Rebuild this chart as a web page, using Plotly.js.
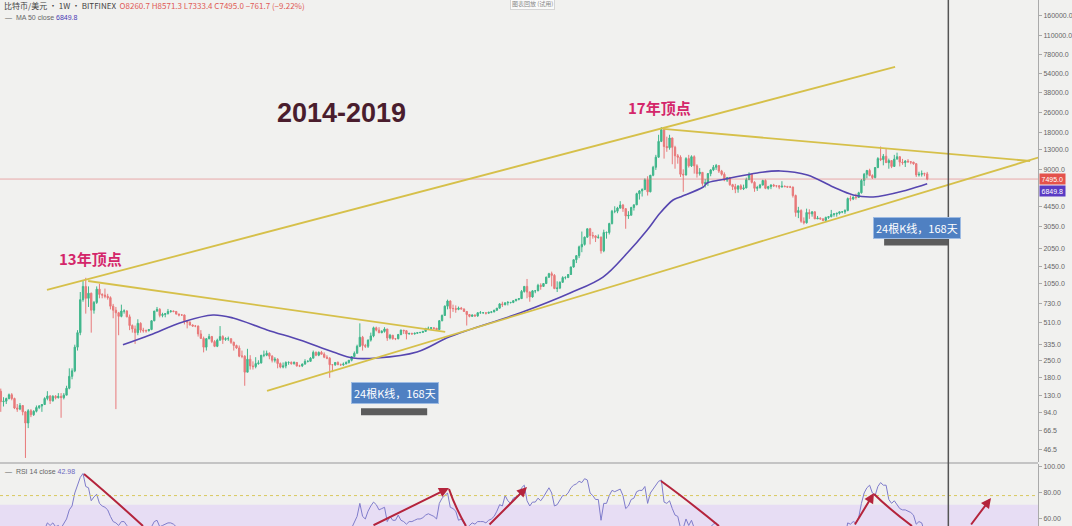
<!DOCTYPE html>
<html>
<head>
<meta charset="utf-8">
<script src="https://cdn.plot.ly/plotly-3.0.1.min.js"></script>
<style>
html,body{margin:0;padding:0;background:#f1f1ef;}
#chart{width:1072px;height:526px;}
</style>
</head>
<body>
<div id="chart"></div>
<script>
// ---------------- DATA (weekly BTC/USD, Bitfinex) ----------------
const firstWeek = '2013-04-29';

const opens = [
140,115,116,122,131,122,102,100,107,95, 77,97,90,96,103,106,109,122,128,117,
127,124,127,124,130,148,185,205,320,420, 780,1000,800,880,640,740,950,860,850,830,
810,690,640,610,570,630,630,565,480,450, 420,500,440,435,435,445,525,630,650,580,
590,600,625,630,625,595,585,585,525,510, 485,475,475,410,377,320,375,390,355,325,
365,390,370,375,375,350,330,315,270,270, 200,255,225,222,235,238,275,275,285,270,
250,255,235,220,225,240,240,235,240,225, 225,233,245,245,260,290,275,290,280,265,
260,230,230,240,230,230,233,240,250,268, 285,325,385,330,325,365,395,460,440,420,
430,450,380,400,375,375,405,440,435,410, 413,410,415,420,422,430,455,455,460,455,
445,525,580,690,760,660,660,650,665,655, 625,590,570,585,575,610,610,610,605,615,
620,640,665,720,710,735,740,740,765,785, 795,910,1000,900,820,920,920,1020,1000,1055,
1190,1270,1230,960,970,1080,1180,1180,1250,1440, 1650,1780,2100,2200,2520,2950,2600,2580,2500,2520,
1950,2750,2750,3250,4100,4100,4350,4600,4300,3750, 3800,4400,4620,5700,6000,6150,7400,5900,8050,9350,
11300,15200,19000,13800,13500,16200,13600,11600,11300,8200, 8100,11000,9600,11400,9600,8300,8500,6900,7000,8300,
8900,9350,9650,8700,8200,7350,7700,6750,6500,6200, 6600,6250,6350,7400,8200,7050,6300,6400,6700,7300,
6300,6500,6700,6600,6600,6450,6550,6500,6450,6450, 5500,4000,4150,3400,3300,4000,3900,4050,3550,3600,
3550,3450,3650,3700,3850,3900,3950,4050,4050,4150, 5200,5150,5350,5300,5800,7300,8200,8800,8000,7700,
9300,11000,10800,11500,10200,10600,9500,10900,11400,10300, 10200,10500,10350,10300,10000,8100,8200,8300,8260.7
];
const highs = [
147,125,124,134,135,124,110,112,108,96, 100,100,98,107,108,110,125,140,130,130,
130,135,135,135,155,215,215,335,440,900, 1120,1175,1000,890,760,1000,1050,880,960,870,
830,720,680,620,710,650,640,590,490,480, 540,510,460,445,450,530,630,680,665,610,
600,655,640,635,630,600,595,590,530,520, 490,485,480,440,390,365,410,395,365,375,
475,400,385,390,375,355,335,330,300,275, 310,275,245,265,250,275,300,300,290,275,
265,260,240,240,245,245,245,245,242,230, 235,255,250,265,300,295,295,298,290,275,
265,232,240,245,235,240,245,250,270,295, 335,500,395,340,370,420,470,470,465,440,
465,450,410,400,378,410,445,440,440,420, 420,420,420,425,432,455,470,465,460,460,
530,590,700,780,770,710,700,685,680,660, 630,595,590,590,615,630,615,610,620,625,
645,665,730,750,740,760,745,770,785,800, 935,1000,1150,910,930,930,1050,1060,1060,1200,
1290,1320,1260,1100,1100,1210,1210,1260,1450,1650, 1800,2150,2800,2550,2950,3000,2780,2610,2650,2550,
2900,2800,3300,4200,4500,4450,4950,4700,4350,4100, 4450,4650,5800,6100,6300,7600,7900,8100,9600,11800,
17200,19890,19200,16600,17200,16300,14000,12000,11700,9000, 11300,11800,11700,11700,9900,9200,8500,7500,8400,9000,
9750,9950,9700,8900,8500,7800,7800,6850,6850,6600, 6800,6750,7700,8500,8250,7200,6600,6850,7400,7450,
6600,6800,6850,6700,6700,7200,6650,6600,6600,6500, 5600,4450,4250,3650,4300,4250,4100,4100,3750,3650,
3600,3700,3700,4200,3950,3950,4050,4100,4250,5300, 5500,5400,5700,5900,7500,8400,8900,9100,8200,9400,
11300,13800,12000,13200,11000,10700,11800,12300,11500,10950, 10700,10900,10500,10350,10100,8600,8800,8450,8571.3
];
const lows = [
95,105,110,120,118,100,95,98,89,40, 70,86,88,94,100,95,108,118,110,115,
120,122,85,120,130,145,175,200,300,400, 750,600,680,420,600,720,800,800,800,780,
650,550,100,400,560,600,560,440,420,340, 400,420,420,420,430,440,520,620,560,560,
560,590,610,615,590,570,575,490,455,480, 470,465,390,375,290,300,370,345,320,320,
360,340,360,360,340,300,310,265,260,155, 200,210,210,215,230,235,265,270,255,240,
240,215,215,215,215,230,230,230,222,220, 220,230,240,245,260,270,270,280,260,255,
180,200,225,230,225,225,233,235,245,265, 285,320,300,315,315,355,385,430,415,415,
420,360,370,368,365,370,400,410,370,405, 405,405,410,415,420,428,445,440,445,435,
440,520,575,650,550,620,610,640,650,620, 480,560,565,565,565,600,600,590,600,605,
615,630,660,680,700,700,725,730,755,770, 790,890,800,750,810,880,915,940,995,1050,
1170,1000,950,900,950,1070,1140,1170,1240,1420, 1550,1700,1900,2150,2500,2200,2450,2300,2450,1850,
1900,2450,2650,3200,3950,3950,4300,4050,2950,3550, 3800,4150,4600,5100,5400,6100,5500,5850,7900,8900,
11200,15000,11000,12500,13000,9900,9100,10000,7800,5900, 8000,9300,9400,8300,7700,8000,6600,6400,6600,7900,
8700,8900,8400,8000,7200,7100,6600,6100,5750,5800, 6100,6100,6300,7400,6900,5900,6000,6250,6650,6200,
6150,6200,6450,6400,6200,6400,6450,6350,6350,5300, 3700,3600,3300,3200,3250,3550,3700,3550,3550,3500,
3400,3400,3550,3650,3700,3700,3850,3950,3900,4100, 4950,5050,5100,5300,5700,6600,7600,7900,7500,7600,
9200,10500,9700,10800,9100,9200,9400,10800,9500,9800, 9400,10200,9900,9800,7800,7850,7850,7900,7333.4
];
const closes = [
115,116,122,131,122,102,100,107,95,77, 97,90,96,103,106,109,122,128,117,127,
124,127,124,130,148,185,205,320,420,780, 1000,800,880,640,740,950,860,850,830,810,
690,640,610,570,630,630,565,480,450,420, 500,440,435,435,445,525,630,650,580,590,
600,625,630,625,595,585,585,525,510,485, 475,475,410,377,320,375,390,355,325,365,
390,370,375,375,350,330,315,270,270,200, 255,225,222,235,238,275,275,285,270,250,
255,235,220,225,240,240,235,240,225,225, 233,245,245,260,290,275,290,280,265,260,
230,230,240,230,230,233,240,250,268,285, 325,385,330,325,365,395,460,440,420,430,
450,380,400,375,375,405,440,435,410,413, 410,415,420,422,430,455,455,460,455,445,
525,580,690,760,660,660,650,665,655,625, 590,570,585,575,610,610,610,605,615,620,
640,665,720,710,735,740,740,765,785,795, 910,1000,900,820,920,920,1020,1000,1055,1190,
1270,1230,960,970,1080,1180,1180,1250,1440,1650, 1780,2100,2200,2520,2950,2600,2580,2500,2520,1950,
2750,2750,3250,4100,4100,4350,4600,4300,3750,3800, 4400,4620,5700,6000,6150,7400,5900,8050,9350,11300,
15200,19000,13800,13500,16200,13600,11600,11300,8200,8100, 11000,9600,11400,9600,8300,8500,6900,7000,8300,8900,
9350,9650,8700,8200,7350,7700,6750,6500,6200,6600, 6250,6350,7400,8200,7050,6300,6400,6700,7300,6300,
6500,6700,6600,6600,6450,6550,6500,6450,6450,5500, 4000,4150,3400,3300,4000,3900,4050,3550,3600,3550,
3450,3650,3700,3850,3900,3950,4050,4050,4150,5200, 5150,5350,5300,5800,7300,8200,8800,8000,7700,9300,
11000,10800,11500,10200,10600,9500,10900,11400,10300,10200, 10500,10350,10300,10000,8100,8200,8300,8260.7,7495.0
];

// 50-week MA (purple)
const maDates = ['2014-03-07','2014-05-15','2014-08-07','2014-10-23','2014-12-13','2015-03-10','2015-06-02','2015-08-26',
 '2015-10-16','2015-12-16','2016-03-27','2016-06-20','2016-12-15','2017-04-22','2017-07-15','2017-09-15','2017-11-05',
 '2017-12-08','2018-01-10','2018-01-28','2018-03-28','2018-04-07','2018-05-10','2018-06-05','2018-08-13','2018-10-11',
 '2018-12-19','2019-02-23','2019-04-15','2019-06-05','2019-08-31','2019-10-21'];
const maValues = [334,402,513,585,553,442,366,292,261,261,292,390,607,883,1191,1871,2884,3966,5058,5354,6457,6966,7362,
 7650,8410,8730,8090,6457,5558,5354,6109,6849.8];

// RSI 14 (weekly)
const rsiValues = [
null,null,null,null,null,null,null,null,null,null,null,null,null,null,
45,47,52,57,55,57,54,55,53,56, 60,67,70,80,86,92,95,85,84,74,
77,79,72,70,69,67,62,58,57,55, 58,58,55,50,48,47,52,48,48,48,
49,54,58,59,54,55,56,57,57,56, 54,53,53,48,46,45,44,43,38,35,
30,35,38,36,34,38,40,39,40,40, 38,35,34,30,31,25,33,31,31,34,
34,40,40,42,40,38,39,37,36,37, 40,40,40,41,39,39,41,44,44,47,
53,50,52,50,47,46,42,42,44,43, 43,44,45,48,53,57,62,72,62,60,
66,70,73,71,67,68,69,58,62,59, 59,63,59,58,56,58,58,59,60,60,
61,63,64,63,62,60,72,76,78,80, 69,68,66,59,60,57,53,55,57,56,
58,58,58,57,59,60,62,66,71,70, 78,74,72,76,77,78,84,86,74,70,
73,73,76,74,77,81,84,80,70,71, 75,78,78,80,84,86,87,89,88,91,
90,80,78,75,75,59,72,72,78,82, 81,82,83,78,68,70,75,76,81,82,
82,85,72,80,83,86,89,90,73,72, 74,68,63,62,53,53,60,55,59,53,
50,51,45,46,52,54,56,57,52,50, 46,48,44,42,41,44,42,43,50,53,
46,42,43,45,49,43,44,46,45,45, 44,44,44,43,43,36,28,31,26,25,
35,34,36,33,34,33,32,36,37,40, 41,42,44,44,46,57,56,58,57,61,
72,80,84,86,80,78,85,88,86,86, 75,72,74,71,68,67,67,66,65,63,
56,58,57,50,43
];

// Drawn trend lines (date, price)
const upperChannelX = ['2013-08-25','2019-07-31'];
const upperChannelY = [935, 61400];
const lowerChannelX = ['2015-03-10','2020-08-05'];
const lowerChannelY = [141, 11350];
const top2013LineX = ['2013-12-08','2016-06-07'];
const top2013LineY = [1107, 426];
const top2017LineX = ['2017-12-16','2020-07-10'];
const top2017LineY = [19190, 10520];
const lastPrice = 7495.0;
const maLast = 6849.8;
const rsiLast = '42.98';
// measured spans: "24根K线，168天"
const span1X = ['2015-11-05','2016-04-22']; const span1Y = [95, 95];
const span2X = ['2019-07-03','2019-12-14']; const span2Y = [2300, 2300];
const cursorDate = '2019-12-14';

const priceTicks = [220000,160000,110000,78000,54000,38000,26000,18000,13000,9000,4450,3050,2050,1450,1050,730,510,335,250,180,130,94,66.5,46.5];
const priceTickText = ['220000.0','160000.0','110000.0','78000.0','54000.0','38000.0','26000.0','18000.0','13000.0','9000.0','4450.0','3050.0','2050.0','1450.0','1050.0','730.0','510.0','335.0','250.0','180.0','130.0','94.0','66.5','46.5'];
const rsiTicks = [100, 80, 60];
const rsiTickText = ['100.00','80.00','60.00'];

const xRange = ['2013-04-27','2020-07-30'];

// ---------------- BUILD ----------------
const t0 = Date.UTC(2013,3,29);
const dates = closes.map((_, i) => new Date(t0 + i*7*86400000).toISOString().slice(0,10));

const W = 1072, H = 526, PW = 1038;
const px = x => x / PW;
const py = y => 1 - y / H;

const GOLD = '#d6c04a';
const traces = [
  {type:'scatter', mode:'lines', x:[xRange[0], xRange[1]], y:[lastPrice,lastPrice], line:{color:'rgba(226,110,110,0.55)', width:1}, yaxis:'y', hoverinfo:'skip'},
  {type:'candlestick', x:dates, open:opens, high:highs, low:lows, close:closes, yaxis:'y',
   increasing:{line:{color:'#3fb68b', width:1}, fillcolor:'#3fb68b'},
   decreasing:{line:{color:'#e8797a', width:1}, fillcolor:'#e8797a'}, whiskerwidth:0},
  {type:'scatter', mode:'lines', x:maDates, y:maValues, line:{color:'#5646b0', width:1.6, shape:'spline'}, yaxis:'y'},
  {type:'scatter', mode:'lines', x:upperChannelX, y:upperChannelY, line:{color:GOLD, width:1.8}, yaxis:'y'},
  {type:'scatter', mode:'lines', x:lowerChannelX, y:lowerChannelY, line:{color:GOLD, width:1.8}, yaxis:'y'},
  {type:'scatter', mode:'lines', x:top2013LineX, y:top2013LineY, line:{color:GOLD, width:1.8}, yaxis:'y'},
  {type:'scatter', mode:'lines', x:top2017LineX, y:top2017LineY, line:{color:GOLD, width:1.8}, yaxis:'y'},
  {type:'scatter', mode:'lines', x:span1X, y:span1Y, line:{color:'#5c5c5c', width:7}, yaxis:'y'},
  {type:'scatter', mode:'lines', x:span2X, y:span2Y, line:{color:'#5c5c5c', width:7}, yaxis:'y'},
  {type:'scatter', mode:'lines', x:dates, y:rsiValues, line:{color:'#7f7ccb', width:1}, yaxis:'y2', connectgaps:false}
];

const FONT = 'Liberation Sans, Noto Sans CJK SC, sans-serif';
const CJK = 'Noto Sans CJK SC, sans-serif';

const annotations = [
  {xref:'paper', yref:'paper', x:px(2), y:py(5), xanchor:'left', yanchor:'middle', showarrow:false,
   text:'<span style="color:#444">比特币/美元 · 1W · BITFINEX</span>  <span style="color:#e05a55">O8260.7 H8571.3 L7333.4 C7495.0 −761.7 (−9.22%)</span>',
   font:{size:8, family:CJK}},
  {xref:'paper', yref:'paper', x:px(3), y:py(18), xanchor:'left', yanchor:'middle', showarrow:false,
   text:'<span style="color:#666">—  MA 50 close</span> <span style="color:#4a3bb5">' + maLast.toFixed(1) + '</span>', font:{size:7, family:FONT}},
  {xref:'paper', yref:'paper', x:px(3), y:py(471), xanchor:'left', yanchor:'middle', showarrow:false,
   text:'<span style="color:#666">—  RSI 14 close</span> <span style="color:#6d68c0">' + rsiLast + '</span>', font:{size:7, family:FONT}},
  {xref:'paper', yref:'paper', x:px(532), y:py(4), xanchor:'center', yanchor:'middle', showarrow:false,
   text:'图表回放 (试用)', font:{size:6, color:'#888', family:CJK}, bgcolor:'#fafafa', bordercolor:'#d5d5d5', borderwidth:1, borderpad:1},
  {xref:'paper', yref:'paper', x:px(341), y:py(113), xanchor:'center', yanchor:'middle', showarrow:false,
   text:'<b>2014-2019</b>', font:{size:27, color:'#4a1d2d', family:FONT}},
  {xref:'paper', yref:'paper', x:px(90), y:py(258), xanchor:'center', yanchor:'middle', showarrow:false,
   text:'<b>13年顶点</b>', font:{size:15, color:'#d4266a', family:CJK}},
  {xref:'paper', yref:'paper', x:px(659), y:py(107), xanchor:'center', yanchor:'middle', showarrow:false,
   text:'<b>17年顶点</b>', font:{size:15, color:'#d4266a', family:CJK}},
  {xref:'paper', yref:'paper', x:px(395), y:py(393), xanchor:'center', yanchor:'middle', showarrow:false,
   text:'24根K线，168天', font:{size:11, color:'#ffffff', family:CJK}, bgcolor:'#4f80c2', bordercolor:'#9dbbe3', borderwidth:1, borderpad:2},
  {xref:'paper', yref:'paper', x:px(917), y:py(228), xanchor:'center', yanchor:'middle', showarrow:false,
   text:'24根K线，168天', font:{size:11, color:'#ffffff', family:CJK}, bgcolor:'#4f80c2', bordercolor:'#9dbbe3', borderwidth:1, borderpad:2},
  {xref:'paper', yref:'paper', x:1.001, y:py(179), xanchor:'left', yanchor:'middle', showarrow:false,
   text:lastPrice.toFixed(1), font:{size:7, color:'#ffffff', family:FONT}, bgcolor:'#e4524b', borderpad:1.5},
  {xref:'paper', yref:'paper', x:1.001, y:py(191), xanchor:'left', yanchor:'middle', showarrow:false,
   text:maLast.toFixed(1), font:{size:7, color:'#ffffff', family:FONT}, bgcolor:'#5a3bc4', borderpad:1.5}
];

// red arrows in the RSI panel
const RED = '#b4243c';
[[449,488,372,526],[527,487,488,526],[874,493,854,526],[991,498,970,526]].forEach(a => {
  annotations.push({xref:'paper', yref:'paper', x:px(a[0]), y:py(a[1]), ax:a[2]-a[0], ay:a[3]-a[1],
    showarrow:true, arrowhead:2, arrowsize:1, arrowwidth:2, arrowcolor:RED, text:''});
});
const curve = (x0,y0,cx,cy,x1,y1) => `M ${px(x0)},${py(y0)} Q ${px(cx)},${py(cy)} ${px(x1)},${py(y1)}`;

const shapes = [
  {type:'rect', xref:'paper', yref:'y2', x0:0, x1:1, y0:54.6, y1:71, fillcolor:'#e7ddf4', line:{width:0}, layer:'below'},
  {type:'line', xref:'paper', yref:'y2', x0:0, x1:1, y0:78, y1:78, line:{color:'#d8c85e', width:1, dash:'dot'}},
  {type:'line', xref:'paper', yref:'paper', x0:0, x1:1, y0:py(463), y1:py(463), line:{color:'#c4c4c4', width:2}},
  {type:'line', xref:'x', yref:'paper', x0:cursorDate, x1:cursorDate, y0:0, y1:1, line:{color:'#555', width:1.5}},
  {type:'path', xref:'paper', yref:'paper', path:curve(84,474,108,494,143,526), line:{color:RED, width:2}},
  {type:'path', xref:'paper', yref:'paper', path:curve(449,489,455,507,466,526), line:{color:RED, width:2}},
  {type:'path', xref:'paper', yref:'paper', path:curve(661,481,686,499,719,526), line:{color:RED, width:2}},
  {type:'path', xref:'paper', yref:'paper', path:curve(874,494,888,508,912,526), line:{color:RED, width:2}}
];

const layout = {
  width:W, height:H,
  margin:{l:0, r:W-PW, t:0, b:0},
  paper_bgcolor:'#f1f1ef', plot_bgcolor:'#f1f1ef',
  showlegend:false, hovermode:false,
  font:{family:FONT},
  xaxis:{type:'date', range:xRange, showgrid:false, zeroline:false, showticklabels:false, ticks:'',
         rangeslider:{visible:false}, anchor:'y2', showline:false},
  yaxis:{type:'log', domain:[1-462/H, 1], range:[1.569, 5.334], side:'right', showgrid:false, zeroline:false,
         tickmode:'array', tickvals:priceTicks, ticktext:priceTickText, tickfont:{size:7, color:'#666'},
         ticks:'outside', ticklen:3, tickcolor:'#aaa', showline:true, linecolor:'#aaa', linewidth:1},
  yaxis2:{domain:[0, 62/H], range:[54.6, 102.3], side:'right', showgrid:false, zeroline:false,
          tickmode:'array', tickvals:rsiTicks, ticktext:rsiTickText, tickfont:{size:7, color:'#666'},
          ticks:'outside', ticklen:3, tickcolor:'#aaa', showline:true, linecolor:'#aaa', linewidth:1},
  annotations:annotations,
  shapes:shapes
};

Plotly.newPlot('chart', traces, layout, {staticPlot:true, displayModeBar:false});
</script>
</body>
</html>
